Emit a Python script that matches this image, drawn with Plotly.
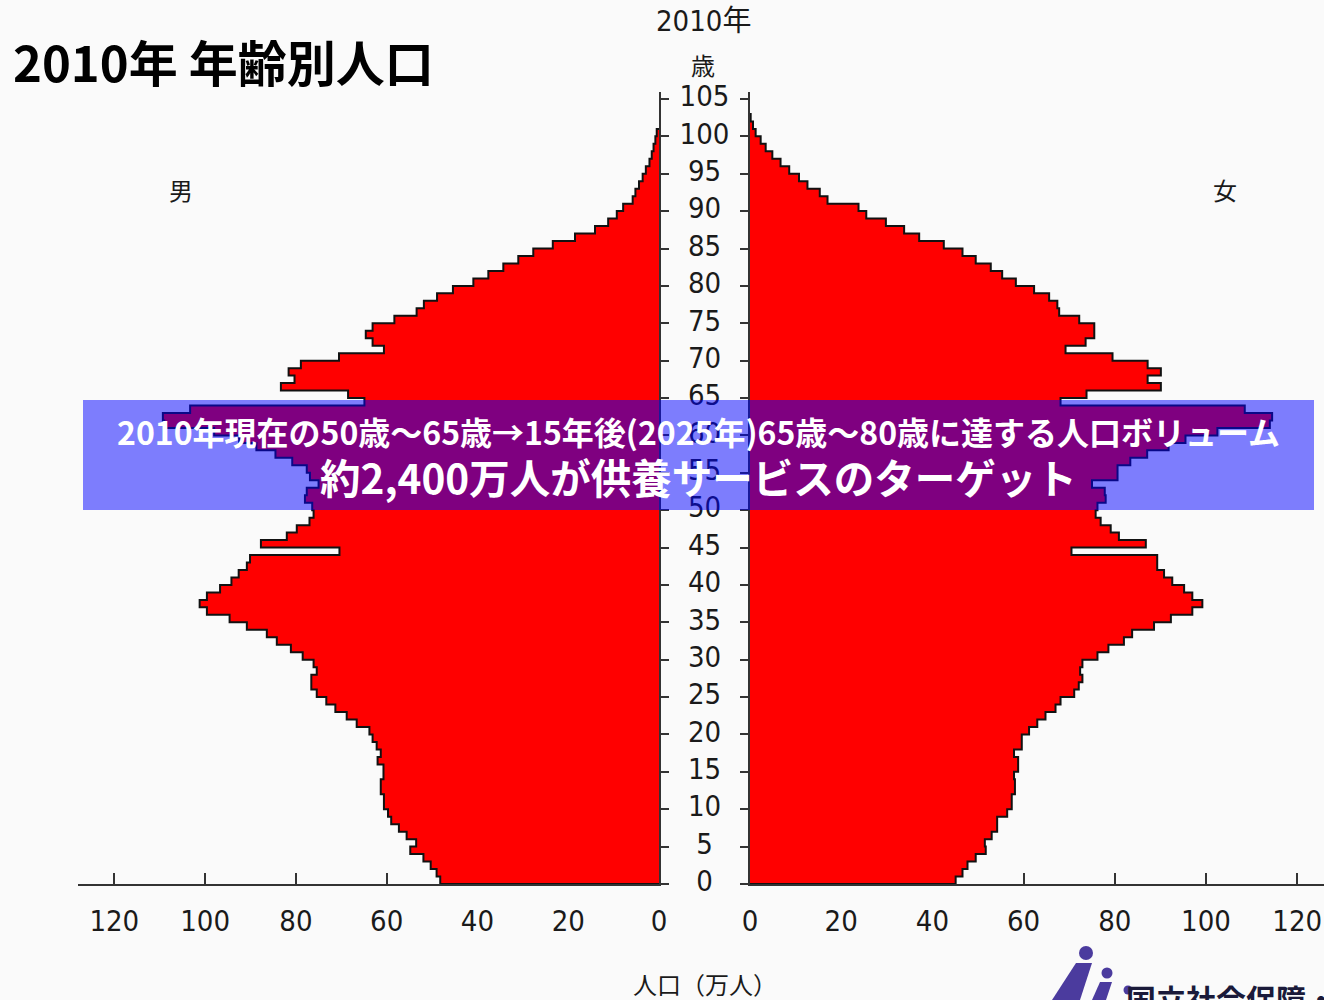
import plotly.graph_objects as go

# ---------------- data (万人) ----------------
male_ages = list(range(0, 101))
male = [48.2, 49.0, 50.3, 51.9, 54.8, 53.5, 55.6, 57.3, 59.0, 59.7,
        60.6, 60.6, 61.3, 61.3, 60.7, 60.7, 62.0, 61.3, 62.2, 63.1,
        63.8, 66.6, 68.8, 71.3, 73.3, 75.4, 76.6, 76.6, 75.4, 76.1,
        78.5, 81.1, 84.2, 86.4, 90.8, 94.6, 99.6, 101.2, 99.6, 96.7,
        94.2, 92.6, 90.8, 90.1, 70.4, 87.7, 82.0, 79.8, 77.0, 76.1,
        76.4, 78.0, 77.6, 75.0, 76.9, 77.6, 80.8, 84.5, 88.7, 92.5,
        98.0, 109.0, 109.3, 103.3, 64.9, 68.5, 83.3, 80.3, 81.6, 78.9,
        70.5, 60.6, 63.1, 64.6, 63.1, 58.3, 53.4, 51.8, 48.9, 45.4,
        40.9, 37.6, 34.3, 31.0, 27.7, 23.4, 18.5, 14.1, 11.2, 9.3,
        7.9, 5.8, 5.2, 4.4, 3.6, 2.9, 2.1, 1.6, 1.2, 0.8,
        0.5]

female_ages = list(range(0, 103))
female = [45.1, 46.6, 47.7, 49.5, 51.7, 51.5, 53.0, 54.2, 54.2, 56.4,
          57.4, 57.4, 58.1, 58.1, 57.9, 58.8, 58.8, 57.9, 59.6, 59.6,
          61.2, 63.0, 64.8, 67.0, 68.1, 71.1, 72.1, 72.9, 72.4, 72.9,
          76.2, 78.6, 82.0, 83.8, 88.6, 92.3, 97.0, 99.2, 97.0, 95.2,
          92.6, 90.8, 89.3, 89.3, 70.5, 86.8, 80.9, 79.1, 76.9, 75.8,
          76.2, 78.0, 77.8, 75.0, 80.6, 80.6, 83.4, 87.1, 91.8, 95.5,
          102.5, 114.0, 114.5, 108.5, 68.1, 73.8, 90.1, 87.2, 90.1, 87.2,
          79.5, 69.2, 73.6, 75.5, 75.5, 72.2, 67.8, 67.4, 65.6, 62.3,
          58.3, 55.3, 52.8, 49.5, 46.6, 42.5, 37.1, 33.8, 29.8, 25.5,
          23.8, 17.0, 15.3, 12.6, 10.75, 8.6, 6.7, 4.9, 3.44, 2.34,
          1.24, 0.66, 0.15]

x_ticks = [0, 20, 40, 60, 80, 100, 120]
age_ticks = list(range(0, 106, 5))

title_text = "2010年 年齢別人口"
year_label = "2010年"
age_unit = "歳"
male_label = "男"
female_label = "女"
x_title = "人口（万人）"
band_line1 = "2010年現在の50歳～65歳→15年後(2025年)65歳～80歳に達する人口ボリューム"
band_line2 = "約2,400万人が供養サービスのターゲット"
logo_text = "国立社会保障・人口問題研究所"

# ---------------- layout constants ----------------
W, H = 1324, 1000
NUM_FONT = "Liberation Sans Narrow, DejaVu Sans Condensed, Noto Sans CJK JP, sans-serif"
JP_FONT = "Noto Sans CJK JP, sans-serif"
TXT = "#1a1a1a"


def step_outline(ages, vals):
    xs, ys = [0], [0]
    for a, v in zip(ages, vals):
        xs += [v, v]
        ys += [a, a + 1]
    xs.append(0)
    ys.append(ages[-1] + 1)
    return xs, ys


mx, my = step_outline(male_ages, male)
fx, fy = step_outline(female_ages, female)

fig = go.Figure()
fig.add_trace(go.Scatter(x=mx, y=my, xaxis="x", yaxis="y", mode="lines",
                         fill="toself", fillcolor="#ff0000",
                         line=dict(color="#111111", width=2),
                         hoverinfo="skip", showlegend=False))
fig.add_trace(go.Scatter(x=fx, y=fy, xaxis="x2", yaxis="y2", mode="lines",
                         fill="toself", fillcolor="#ff0000",
                         line=dict(color="#111111", width=2),
                         hoverinfo="skip", showlegend=False))
# age labels in the central gap (own hidden x axis spanning the gap)
fig.add_trace(go.Scatter(x=[0.5] * len(age_ticks), y=age_ticks, xaxis="x3", yaxis="y",
                         mode="text", text=[str(t) for t in age_ticks],
                         textposition="middle center", cliponaxis=False,
                         textfont=dict(family=NUM_FONT, size=29, color=TXT),
                         hoverinfo="skip", showlegend=False))

ydom = [1 - 884 / H, 1 - 91.5 / H]
common_x = dict(showgrid=False, zeroline=False, showline=True, linecolor="#333333",
                linewidth=2, ticks="inside", ticklen=11, tickwidth=1.5, tickcolor="#333333",
                tickvals=x_ticks, ticktext=[str(t) for t in x_ticks],
                tickfont=dict(family=NUM_FONT, size=29, color=TXT),
                ticklabelstandoff=10, layer="below traces", fixedrange=True)
common_y = dict(showgrid=False, zeroline=False, showline=True, linecolor="#333333",
                linewidth=2, ticks="outside", ticklen=8, tickwidth=1.5, tickcolor="#333333",
                tickvals=age_ticks, showticklabels=False, range=[0, 106],
                domain=ydom, fixedrange=True)

fig.update_layout(
    width=W, height=H, autosize=False,
    margin=dict(l=0, r=0, t=0, b=0, autoexpand=False),
    paper_bgcolor="#fafafa", plot_bgcolor="rgba(0,0,0,0)",
    xaxis=dict(domain=[78 / W, 659 / W], range=[128, 0], anchor="y", **common_x),
    xaxis2=dict(domain=[750 / W, 1.0], range=[0, 574 / 4.56], anchor="y2", **common_x),
    xaxis3=dict(domain=[659 / W, 750 / W], range=[0, 1], anchor="y", visible=False,
                fixedrange=True),
    yaxis=dict(anchor="x", side="right", **common_y),
    yaxis2=dict(anchor="x2", side="left", **common_y),
)

# translucent band
fig.add_shape(type="rect", xref="paper", yref="paper",
              x0=83 / W, x1=1314 / W, y0=1 - 510 / H, y1=1 - 400 / H,
              fillcolor="rgba(0,0,255,0.5)", line=dict(width=0), layer="above")

ann = [
    dict(x=11 / W, y=1 - 61 / H, text=f"<b>{title_text}</b>", xanchor="left",
         font=dict(family=JP_FONT, size=49, color="#000000")),
    dict(x=703 / W, y=1 - 21 / H, text=year_label,
         font=dict(family=NUM_FONT, size=29, color=TXT)),
    dict(x=703 / W, y=1 - 65 / H, text=age_unit,
         font=dict(family=JP_FONT, size=24, color=TXT)),
    dict(x=181 / W, y=1 - 189 / H, text=male_label,
         font=dict(family=JP_FONT, size=24, color=TXT)),
    dict(x=1225 / W, y=1 - 189 / H, text=female_label,
         font=dict(family=JP_FONT, size=24, color=TXT)),
    dict(x=705 / W, y=1 - 983 / H, text=x_title,
         font=dict(family=JP_FONT, size=24, color=TXT)),
    dict(x=698 / W, y=1 - 431 / H, text=f"<b>{band_line1}</b>",
         font=dict(family=JP_FONT, size=32, color="#ffffff")),
    dict(x=698 / W, y=1 - 476 / H, text=f"<b>{band_line2}</b>",
         font=dict(family=JP_FONT, size=40.5, color="#ffffff")),
    dict(x=1124 / W, y=1 - 998 / H, text=f"<b>{logo_text}</b>", xanchor="left",
         font=dict(family=JP_FONT, size=30, color="#1a1a3a")),
]
for a in ann:
    a.setdefault("xref", "paper")
    a.setdefault("yref", "paper")
    a.setdefault("showarrow", False)
    a.setdefault("xanchor", "center")
    a.setdefault("yanchor", "middle")
fig.update_layout(annotations=ann)

# simple logo figure (decorative)
logo_col = "#4b3b9e"
for cx, cy, r in [(1086, 953, 7), (1107, 973, 5.5), (1128, 990, 4.5)]:
    fig.add_shape(type="circle", xref="paper", yref="paper",
                  x0=(cx - r) / W, x1=(cx + r) / W, y0=1 - (cy + r) / H, y1=1 - (cy - r) / H,
                  fillcolor=logo_col, line=dict(width=0))
fig.add_shape(type="path", xref="paper", yref="paper",
              path=f"M {1052/W},{1-1000/H} L {1076/W},{1-963/H} L {1092/W},{1-963/H} L {1080/W},{1-1000/H} Z",
              fillcolor=logo_col, line=dict(width=0))
fig.add_shape(type="path", xref="paper", yref="paper",
              path=f"M {1092/W},{1-1000/H} L {1100/W},{1-982/H} L {1112/W},{1-982/H} L {1106/W},{1-1000/H} Z",
              fillcolor=logo_col, line=dict(width=0))

post = ("document.body.style.margin='0px';document.body.style.overflow='hidden';"
        "var gd=document.getElementById('{plot_id}');"
        "Plotly.relayout(gd,{width:%d,height:%d});" % (W, H))
fig.write_html("out.html", config={"displayModeBar": False, "responsive": False},
               post_script=post)
